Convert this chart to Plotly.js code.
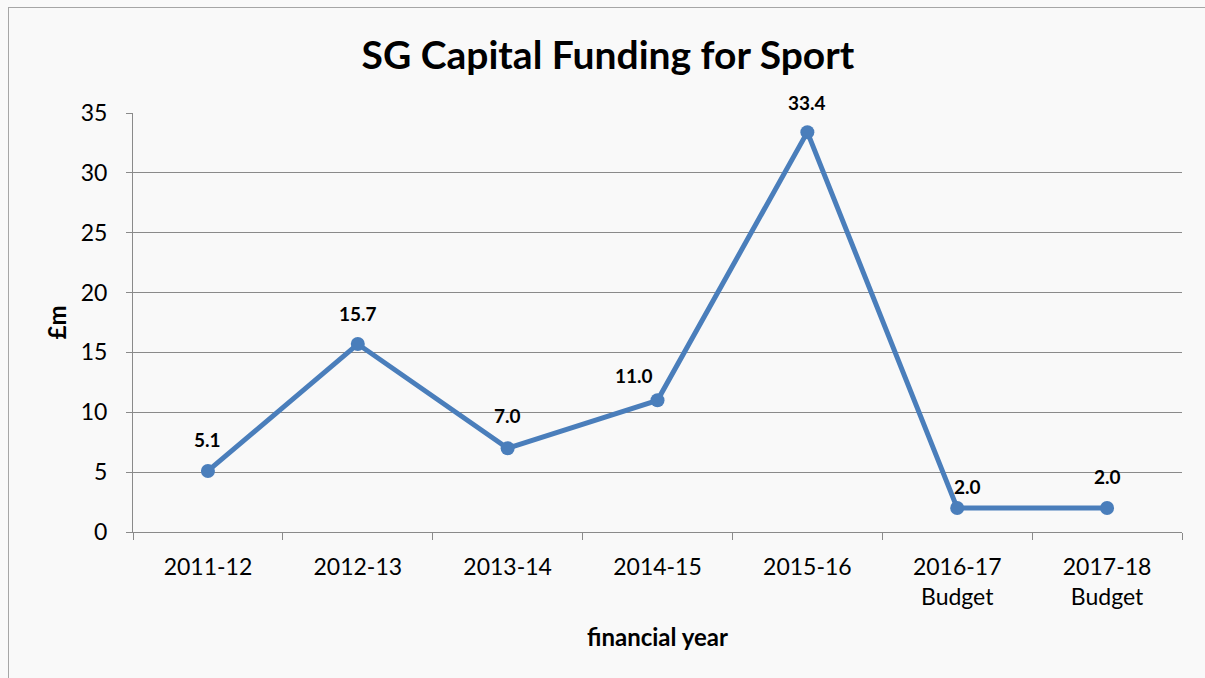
<!DOCTYPE html>
<html>
<head>
<meta charset="utf-8">
<script src="https://cdn.plot.ly/plotly-3.0.1.min.js"></script>
<style>
  html, body { margin: 0; padding: 0; background: #f9f9f9; }
  #frame { position: absolute; left: 0; top: 0; width: 1205px; height: 678px; overflow: hidden; }
  #border { position: absolute; left: 8px; top: 7px; width: 1210px; height: 690px;
            border-left: 1px solid #a6a6a6; border-top: 1px solid #a6a6a6; pointer-events: none; }
  #chart { position: absolute; left: 0; top: 0; width: 1205px; height: 678px; }
</style>
</head>
<body>
<div id="frame">
  <div id="chart"></div>
  <div id="border"></div>
</div>
<script>
// ---- data ----
const categories = ["2011-12", "2012-13", "2013-14", "2014-15", "2015-16", "2016-17 Budget", "2017-18 Budget"];
const tickLabels = ["2011-12", "2012-13", "2013-14", "2014-15", "2015-16", "2016-17<br>Budget", "2017-18<br>Budget"];
const funding = [5.1, 15.7, 7.0, 11.0, 33.4, 2.0, 2.0];
const valueLabels = ["5.1", "15.7", "7.0", "11.0", "33.4", "2.0", "2.0"];

// label placement (pixels) relative to each point
const labelDx = [0, 0, 0, -24, 0, 10, 0];
const labelDy = [31, 31, 33, 25, 30, 22, 32];

const FONT = "Lato, 'Open Sans', sans-serif";
const lineColor = "#4a7ebb";
const gridColor = "#8a8a8a";

const trace = {
  type: "scatter",
  mode: "lines+markers",
  x: categories,
  y: funding,
  line: { color: lineColor, width: 5 },
  marker: { color: lineColor, size: 14 },
  hoverinfo: "x+y",
  showlegend: false
};

const annotations = funding.map((v, i) => ({
  x: categories[i], y: v, xref: "x", yref: "y",
  text: "<b>" + valueLabels[i] + "</b>",
  showarrow: false,
  xshift: labelDx[i], yshift: labelDy[i],
  font: { family: FONT, size: 19, color: "#000" }
}));

const layout = {
  width: 1205, height: 678,
  paper_bgcolor: "#f9f9f9",
  plot_bgcolor: "#f9f9f9",
  margin: { l: 133, r: 23, t: 113, b: 146 },
  title: {
    text: "<b>SG Capital Funding for Sport</b>",
    font: { family: FONT, size: 39, color: "#000" },
    x: 0.5045, xanchor: "center", y: 0.918, yanchor: "middle"
  },
  xaxis: {
    type: "category",
    tickmode: "array",
    tickvals: categories,
    ticktext: tickLabels,
    range: [-0.5, 6.5],
    showgrid: false,
    zeroline: false,
    showline: true, linecolor: gridColor, linewidth: 1,
    ticks: "outside", tickson: "boundaries", ticklen: 7, tickcolor: gridColor, tickwidth: 1,
    ticklabelstandoff: 14,
    tickfont: { family: FONT, size: 23, color: "#000" },
    title: { text: "<b>financial year</b>", font: { family: FONT, size: 24, color: "#000" }, standoff: 20 },
    fixedrange: true
  },
  yaxis: {
    range: [0, 35],
    dtick: 5, tick0: 0,
    showgrid: true, gridcolor: gridColor, gridwidth: 1,
    zeroline: false,
    showline: true, linecolor: gridColor, linewidth: 1,
    ticks: "outside", ticklen: 6, tickcolor: gridColor, tickwidth: 1,
    ticklabelstandoff: 14,
    tickfont: { family: FONT, size: 23, color: "#000" },
    title: { text: "<b>£m</b>", font: { family: FONT, size: 24, color: "#000" }, standoff: 7 },
    fixedrange: true
  },
  annotations: annotations,
  font: { family: FONT, color: "#000" }
};

Plotly.newPlot("chart", [trace], layout, { displayModeBar: false });
</script>
</body>
</html>
